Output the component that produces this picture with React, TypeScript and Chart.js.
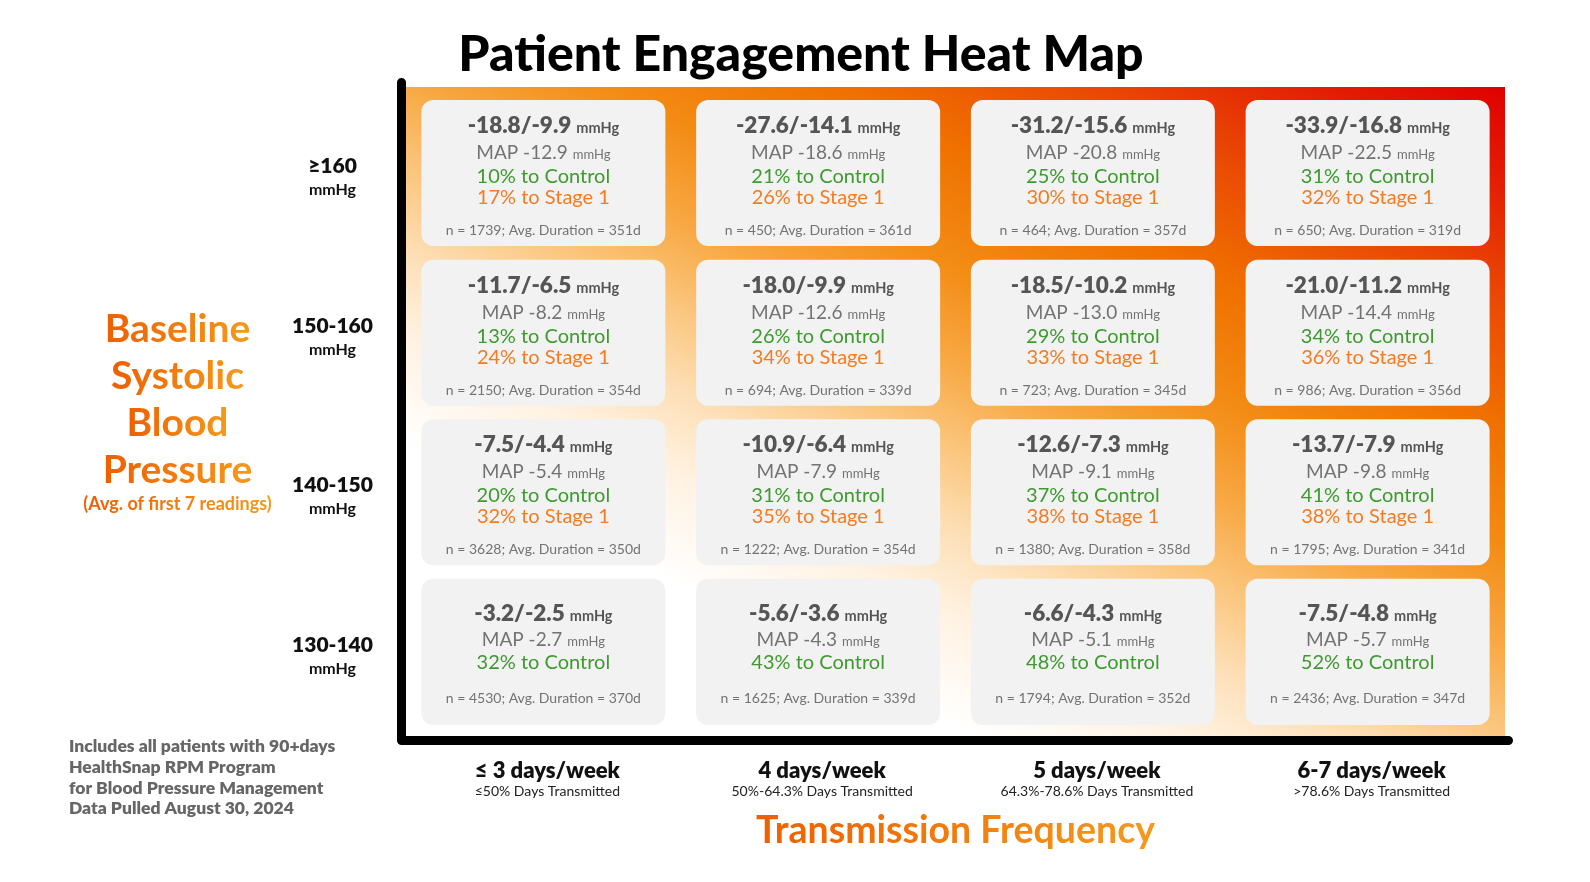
import { useEffect, useRef } from 'react';
import { Chart, registerables } from 'chart.js';

Chart.register(...registerables);

// ---------- data ----------
const chartTitle = 'Patient Engagement Heat Map';
const frequencies = ['≤ 3 days/week', '4 days/week', '5 days/week', '6-7 days/week'];
const frequencyDetails = [
  '≤50% Days Transmitted',
  '50%-64.3% Days Transmitted',
  '64.3%-78.6% Days Transmitted',
  '>78.6% Days Transmitted',
];
// rows listed top to bottom
const baselineBands = ['≥160', '150-160', '140-150', '130-140'];
const bandUnit = 'mmHg';
const yTitleLines = ['Baseline', 'Systolic', 'Blood', 'Pressure'];
const yTitleNote = '(Avg. of first 7 readings)';
const xTitle = 'Transmission Frequency';
const footnote = [
  'Includes all patients with 90+days',
  'HealthSnap RPM Program',
  'for Blood Pressure Management',
  'Data Pulled August 30, 2024',
];

const systolicChange = [
  [-18.8, -27.6, -31.2, -33.9],
  [-11.7, -18.0, -18.5, -21.0],
  [-7.5, -10.9, -12.6, -13.7],
  [-3.2, -5.6, -6.6, -7.5],
];
const diastolicChange = [
  [-9.9, -14.1, -15.6, -16.8],
  [-6.5, -9.9, -10.2, -11.2],
  [-4.4, -6.4, -7.3, -7.9],
  [-2.5, -3.6, -4.3, -4.8],
];
const mapChange = [
  [-12.9, -18.6, -20.8, -22.5],
  [-8.2, -12.6, -13.0, -14.4],
  [-5.4, -7.9, -9.1, -9.8],
  [-2.7, -4.3, -5.1, -5.7],
];
const toControl = [
  [10, 21, 25, 31],
  [13, 26, 29, 34],
  [20, 31, 37, 41],
  [32, 43, 48, 52],
];
const toStage1: (number | null)[][] = [
  [17, 26, 30, 32],
  [24, 34, 33, 36],
  [32, 35, 38, 38],
  [null, null, null, null],
];
const patients = [
  [1739, 450, 464, 650],
  [2150, 694, 723, 986],
  [3628, 1222, 1380, 1795],
  [4530, 1625, 1794, 2436],
];
const avgDuration = [
  [351, 361, 357, 319],
  [354, 339, 345, 356],
  [350, 354, 358, 341],
  [370, 339, 352, 347],
];

// ---------- helpers ----------
const FONT = 'Lato';
const f = (w: number, s: number) => `${w} ${s}px ${FONT}`;
const fmt = (v: number) => v.toFixed(1);

function drawPair(
  ctx: CanvasRenderingContext2D,
  cx: number,
  y: number,
  a: string,
  fa: string,
  b: string,
  fb: string,
  color: string,
  gap: number
) {
  ctx.font = fa;
  const wa = ctx.measureText(a).width;
  ctx.font = fb;
  const wb = ctx.measureText(b).width;
  const x0 = cx - (wa + gap + wb) / 2;
  ctx.fillStyle = color;
  ctx.textAlign = 'left';
  ctx.font = fa;
  ctx.fillText(a, x0, y);
  ctx.font = fb;
  ctx.fillText(b, x0 + wa + gap, y);
}

function orangeText(ctx: CanvasRenderingContext2D, text: string, cx: number, y: number, font: string) {
  ctx.font = font;
  const w = ctx.measureText(text).width;
  const g = ctx.createLinearGradient(cx - w / 2, 0, cx + w / 2, 0);
  g.addColorStop(0, '#ee5f00');
  g.addColorStop(1, '#f59a1c');
  ctx.fillStyle = g;
  ctx.textAlign = 'center';
  ctx.fillText(text, cx, y);
}

const heatPlugin = {
  id: 'heatDecor',
  beforeDatasetsDraw(chart: any) {
    const { ctx, chartArea: a } = chart;
    const W = a.right - a.left;
    const H = a.bottom - a.top;
    const vx = 0.2793 * W;
    const vy = 0.9245 * H;
    const s = (vx * W + vy * H) / (vx * vx + vy * vy);
    const g = ctx.createLinearGradient(a.left, a.bottom, a.left + s * vx, a.bottom - s * vy);
    const stops: [number, string][] = [
      [0, '#ffffff'],
      [0.24, '#ffffff'],
      [0.33, '#fff2e2'],
      [0.4, '#fddfb6'],
      [0.47, '#fbc57c'],
      [0.54, '#f8a843'],
      [0.62, '#f38c14'],
      [0.72, '#f07000'],
      [0.82, '#ea4a04'],
      [0.92, '#e31e03'],
      [1, '#df0000'],
    ];
    stops.forEach(([o, c]) => g.addColorStop(o, c));
    ctx.save();
    ctx.fillStyle = g;
    ctx.fillRect(a.left, a.top, W, H);
    ctx.restore();
  },
  afterDatasetsDraw(chart: any) {
    const { ctx } = chart;
    ctx.save();
    ctx.textBaseline = 'alphabetic';
    baselineBands.forEach((_, r) => {
      const meta = chart.getDatasetMeta(r);
      meta.data.forEach((el: any, c: number) => {
        const { x, y, base } = el.getProps(['x', 'y', 'base'], true);
        const top = Math.min(y, base);
        const stage = toStage1[r][c];
        const off = stage != null ? [33, 59, 83, 104, 135] : [42, 67, 90, 0, 124];
        drawPair(
          ctx, x, top + off[0],
          `${fmt(systolicChange[r][c])}/${fmt(diastolicChange[r][c])}`, f(800, 22.5),
          'mmHg', f(700, 14.5), '#555555', 5
        );
        drawPair(
          ctx, x, top + off[1],
          `MAP ${fmt(mapChange[r][c])}`, f(400, 19),
          'mmHg', f(400, 13), '#737373', 5
        );
        ctx.textAlign = 'center';
        ctx.font = f(400, 20);
        ctx.fillStyle = '#3d9a2e';
        ctx.fillText(`${toControl[r][c]}% to Control`, x, top + off[2]);
        if (stage != null) {
          ctx.fillStyle = '#f47b20';
          ctx.fillText(`${stage}% to Stage 1`, x, top + off[3]);
        }
        ctx.font = f(400, 14);
        ctx.fillStyle = '#737373';
        ctx.fillText(`n = ${patients[r][c]}; Avg. Duration = ${avgDuration[r][c]}d`, x, top + off[4]);
      });
    });
    ctx.restore();
  },
  afterDraw(chart: any) {
    const { ctx, chartArea: a, scales } = chart;
    ctx.save();
    // axis lines
    ctx.strokeStyle = '#000';
    ctx.lineWidth = 9;
    ctx.lineCap = 'round';
    ctx.lineJoin = 'round';
    ctx.beginPath();
    ctx.moveTo(a.left - 4.5, a.top - 4.5);
    ctx.lineTo(a.left - 4.5, a.bottom + 4.5);
    ctx.lineTo(a.right + 3.5, a.bottom + 4.5);
    ctx.stroke();

    ctx.textBaseline = 'alphabetic';
    // y tick labels
    const ly = scales.y;
    baselineBands.forEach((band, r) => {
      const yc = ly.getPixelForValue(baselineBands.length - 1 - r + 0.5);
      const xc = a.left - 73.5;
      ctx.fillStyle = '#111';
      ctx.textAlign = 'center';
      ctx.font = f(800, 21);
      ctx.fillText(band, xc, yc);
      ctx.font = f(700, 16);
      ctx.fillText(bandUnit, xc, yc + 22);
    });
    // x tick labels
    const lx = scales.x;
    frequencies.forEach((label, c) => {
      const xc = lx.getPixelForValue(c) + 4;
      ctx.fillStyle = '#111';
      ctx.textAlign = 'center';
      ctx.font = f(800, 22);
      ctx.fillText(label, xc, a.bottom + 42);
      ctx.font = f(400, 14);
      ctx.fillStyle = '#222';
      ctx.fillText(frequencyDetails[c], xc, a.bottom + 60);
    });
    // y title
    const cy = (a.top + a.bottom) / 2;
    const tx = a.left - 228.5;
    yTitleLines.forEach((line, i) => {
      orangeText(ctx, line, tx, cy - 70 + i * 47, f(700, 39));
    });
    orangeText(ctx, yTitleNote, tx, cy + 98.5, f(700, 18));
    // x title
    orangeText(ctx, xTitle, (a.left + a.right) / 2, a.bottom + 107, f(700, 37.5));
    // footnote
    ctx.fillStyle = '#666';
    ctx.textAlign = 'left';
    ctx.font = f(800, 17.5);
    footnote.forEach((line, i) => {
      ctx.fillText(line, 69, a.bottom + 16 + i * 20.8);
    });
    ctx.restore();
  },
};

export default function App() {
  const ref = useRef<HTMLCanvasElement | null>(null);
  useEffect(() => {
    document.body.style.margin = '0';
    let chart: Chart | null = null;
    let cancelled = false;
    const fonts = [400, 700, 800, 900].map((w) => `${w} 20px ${FONT}`);
    Promise.all(fonts.map((x) => document.fonts.load(x)))
      .catch(() => null)
      .then(() => {
        if (cancelled || !ref.current) return;
        chart = new Chart(ref.current, {
          type: 'bar',
          data: {
            labels: frequencies,
            datasets: baselineBands.map((band, r) => {
              const level = baselineBands.length - 1 - r;
              return {
                label: band,
                data: frequencies.map(() => [level + 0.0425, level + 0.9575]),
                backgroundColor: '#f2f2f2',
                borderRadius: 12,
                borderSkipped: false,
                barPercentage: 0.888,
                categoryPercentage: 1,
                grouped: false,
              } as any;
            }),
          },
          options: {
            responsive: false,
            animation: false,
            events: [],
            layout: { padding: { left: 97, right: 85, top: 0, bottom: 0 } },
            plugins: {
              legend: { display: false },
              tooltip: { enabled: false },
              title: {
                display: true,
                text: chartTitle,
                color: '#000',
                font: { family: FONT, size: 50, weight: '900' as any },
                padding: { top: 25, bottom: 2 },
              },
            },
            scales: {
              x: {
                grid: { display: false },
                border: { display: false },
                ticks: { display: false },
                afterFit: (s: any) => {
                  s.height = 146;
                },
              },
              y: {
                min: -0.027,
                max: 4.039,
                grid: { display: false },
                border: { display: false },
                ticks: { display: false },
                afterFit: (s: any) => {
                  s.width = 309;
                },
              },
            },
          },
          plugins: [heatPlugin],
        });
      });
    return () => {
      cancelled = true;
      if (chart) chart.destroy();
    };
  }, []);
  return (
    <div style={{ position: 'fixed', left: 0, top: 0, width: 1590, height: 882, background: '#fff' }}>
      <canvas ref={ref} width={1590} height={882} style={{ width: 1590, height: 882, display: 'block' }} />
    </div>
  );
}
